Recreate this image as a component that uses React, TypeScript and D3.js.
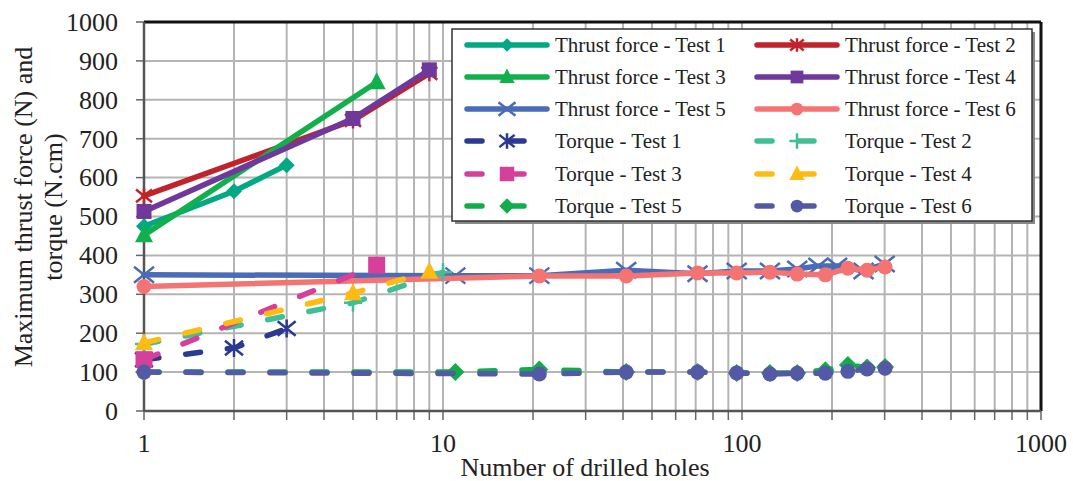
import React from "react";
import * as d3 from "d3";

const W = 1073;
const H = 481;

const xTickLabels = ["1", "10", "100", "1000"];
const yTickValues = [0, 100, 200, 300, 400, 500, 600, 700, 800, 900, 1000];

const thrust1X = [1, 2, 3];
const thrust1Y = [475, 565, 632];
const thrust2X = [1, 5, 9];
const thrust2Y = [553, 747, 868];
const thrust3X = [1, 6];
const thrust3Y = [452, 845];
const thrust4X = [1, 5, 9];
const thrust4Y = [513, 752, 877];
const thrust5X = [1, 11, 21, 41, 71, 96, 124, 153, 180, 208, 255, 300];
const thrust5Y = [350, 348, 348, 362, 353, 360, 360, 365, 373, 373, 360, 378];
const thrust6X = [1, 21, 41, 71, 96, 124, 153, 190, 226, 262, 301];
const thrust6Y = [320, 347, 347, 355, 355, 357, 352, 350, 367, 362, 370];

const torque1X = [1, 2, 3];
const torque1Y = [132, 162, 212];
const torque2X = [1, 5, 10];
const torque2Y = [172, 278, 357];
const torque3X = [1, 6];
const torque3Y = [132, 375];
const torque4X = [1, 5, 9];
const torque4Y = [175, 303, 358];
const torque5X = [1, 11, 21, 41, 71, 96, 124, 153, 190, 226, 262, 301];
const torque5Y = [100, 100, 107, 100, 100, 98, 98, 98, 105, 118, 112, 113];
const torque6X = [1, 21, 41, 71, 96, 124, 153, 190, 226, 262, 301];
const torque6Y = [100, 95, 100, 100, 98, 95, 97, 97, 102, 108, 110];

type Series = {
  name: string;
  xs: number[];
  ys: number[];
  color: string;
  marker: string;
  size: number;
  dashed: boolean;
};

const series: Series[] = [
  { name: "Thrust force - Test 1", xs: thrust1X, ys: thrust1Y, color: "#00A884", marker: "diamond", size: 8, dashed: false },
  { name: "Thrust force - Test 2", xs: thrust2X, ys: thrust2Y, color: "#C1232B", marker: "star", size: 8, dashed: false },
  { name: "Thrust force - Test 3", xs: thrust3X, ys: thrust3Y, color: "#12B04C", marker: "triangle", size: 10, dashed: false },
  { name: "Thrust force - Test 4", xs: thrust4X, ys: thrust4Y, color: "#70389A", marker: "square", size: 7.5, dashed: false },
  { name: "Thrust force - Test 5", xs: thrust5X, ys: thrust5Y, color: "#4A6BB5", marker: "x", size: 10, dashed: false },
  { name: "Thrust force - Test 6", xs: thrust6X, ys: thrust6Y, color: "#F47474", marker: "circle", size: 7.5, dashed: false },
  { name: "Torque - Test 1", xs: torque1X, ys: torque1Y, color: "#2B3990", marker: "star", size: 9, dashed: true },
  { name: "Torque - Test 2", xs: torque2X, ys: torque2Y, color: "#40BF96", marker: "plus", size: 9, dashed: true },
  { name: "Torque - Test 3", xs: torque3X, ys: torque3Y, color: "#D6409A", marker: "square", size: 8.5, dashed: true },
  { name: "Torque - Test 4", xs: torque4X, ys: torque4Y, color: "#FDBB13", marker: "triangle", size: 10, dashed: true },
  { name: "Torque - Test 5", xs: torque5X, ys: torque5Y, color: "#10AD4A", marker: "diamond", size: 9, dashed: true },
  { name: "Torque - Test 6", xs: torque6X, ys: torque6Y, color: "#5459A6", marker: "circle", size: 7.5, dashed: true },
];

const FONT = '"Liberation Serif", "Times New Roman", Times, "DejaVu Serif", serif';

const x = d3.scaleLog().domain([1, 1000]).range([144, 1041]);
const y = d3.scaleLinear().domain([0, 1000]).range([411, 22]);

function Marker({ type, cx, cy, r, color }: { type: string; cx: number; cy: number; r: number; color: string }) {
  if (type === "circle") return <circle cx={cx} cy={cy} r={r} fill={color} />;
  if (type === "square") return <rect x={cx - r} y={cy - r} width={2 * r} height={2 * r} fill={color} />;
  if (type === "diamond")
    return <path d={`M${cx},${cy - r}L${cx + r},${cy}L${cx},${cy + r}L${cx - r},${cy}Z`} fill={color} />;
  if (type === "triangle")
    return (
      <path d={`M${cx},${cy - r}L${cx + r * 0.9},${cy + r * 0.7}L${cx - r * 0.9},${cy + r * 0.7}Z`} fill={color} />
    );
  if (type === "x")
    return (
      <path
        d={`M${cx - r},${cy - r * 0.8}L${cx + r},${cy + r * 0.8}M${cx - r},${cy + r * 0.8}L${cx + r},${cy - r * 0.8}`}
        stroke={color}
        strokeWidth={2.5}
        fill="none"
      />
    );
  if (type === "plus")
    return (
      <path d={`M${cx - r},${cy}L${cx + r},${cy}M${cx},${cy - r}L${cx},${cy + r}`} stroke={color} strokeWidth={2.5} fill="none" />
    );
  if (type === "star")
    return (
      <path
        d={`M${cx - r},${cy - r * 0.8}L${cx + r},${cy + r * 0.8}M${cx - r},${cy + r * 0.8}L${cx + r},${cy - r * 0.8}M${cx},${cy - r}L${cx},${cy + r}`}
        stroke={color}
        strokeWidth={2.5}
        fill="none"
      />
    );
  return null;
}

export default function App() {
  const minorX: number[] = [];
  for (let d = 1; d < 1000; d *= 10) for (let k = 1; k < 10; k++) minorX.push(d * k);
  minorX.push(1000);
  const line = d3
    .line<[number, number]>()
    .x((p) => x(p[0]))
    .y((p) => y(p[1]));

  const legX0 = 452;
  const legY0 = 29;
  const legW = 580;
  const legH = 192;
  const rowY = [45, 77, 109, 141, 174, 206];
  const colX = [467, 757];
  const txt = { fontFamily: FONT, fill: "#222" } as React.CSSProperties;

  return (
    <svg width={W} height={H} style={{ display: "block", position: "absolute", left: 0, top: 0 }}>
      <rect width={W} height={H} fill="#fff" />
      {/* grid */}
      {minorX.slice(1, -1).map((v) => (
        <line key={"gx" + v} x1={x(v)} x2={x(v)} y1={22} y2={411} stroke="#b4b4b4" strokeWidth={2} />
      ))}
      {yTickValues.slice(1, -1).map((v) => (
        <line key={"gy" + v} x1={144} x2={1041} y1={y(v)} y2={y(v)} stroke="#b4b4b4" strokeWidth={2} />
      ))}
      {/* axes ticks */}
      {minorX.map((v) => (
        <line key={"tx" + v} x1={x(v)} x2={x(v)} y1={411} y2={420} stroke="#666" strokeWidth={1.5} />
      ))}
      {yTickValues.map((v) => (
        <line key={"ty" + v} x1={136} x2={144} y1={y(v)} y2={y(v)} stroke="#666" strokeWidth={1.5} />
      ))}
      <line x1={144} x2={1041} y1={22} y2={22} stroke="#111" strokeWidth={3} />
      <line x1={1041} x2={1041} y1={22} y2={411} stroke="#111" strokeWidth={3} />
      <line x1={144} x2={144} y1={22} y2={411} stroke="#555" strokeWidth={2.5} />
      <line x1={144} x2={1041} y1={411} y2={411} stroke="#555" strokeWidth={2.5} />

      {/* series */}
      {series.map((s, i) => {
        const pts: [number, number][] = s.xs.map((v, j) => [v, s.ys[j]]);
        return (
          <g key={"s" + i}>
            <path
              d={line(pts) || ""}
              fill="none"
              stroke={s.color}
              strokeWidth={5.5}
              strokeLinecap="round"
              strokeLinejoin="round"
              strokeDasharray={s.dashed ? "15 27" : undefined}
            />
            {pts.map((p, j) => (
              <Marker key={j} type={s.marker} cx={x(p[0])} cy={y(p[1])} r={s.size} color={s.color} />
            ))}
          </g>
        );
      })}

      {/* tick labels */}
      {yTickValues.map((v) => (
        <text key={"yl" + v} x={118} y={y(v)} dy="0.34em" textAnchor="end" fontSize={26} style={txt}>
          {v}
        </text>
      ))}
      {xTickLabels.map((t) => (
        <text key={"xl" + t} x={x(+t)} y={452} textAnchor="middle" fontSize={26} style={txt}>
          {t}
        </text>
      ))}
      <text x={585} y={476} textAnchor="middle" fontSize={26} style={txt}>
        Number of drilled holes
      </text>
      <text transform="translate(32,207) rotate(-90)" textAnchor="middle" fontSize={26} style={txt}>
        Maximum thrust force (N) and
      </text>
      <text transform="translate(62,207) rotate(-90)" textAnchor="middle" fontSize={26} style={txt}>
        torque (N.cm)
      </text>

      {/* legend */}
      <rect x={legX0 + 3} y={legY0 + 3} width={legW} height={legH} fill="#888" />
      <rect x={legX0} y={legY0} width={legW} height={legH} fill="#fff" stroke="#333" strokeWidth={1.5} />
      {series.map((s, i) => {
        const col = i % 2;
        const row = Math.floor(i / 2);
        const lx = colX[col];
        const ly = rowY[row];
        return (
          <g key={"lg" + i}>
            <line
              x1={lx}
              x2={lx + 80}
              y1={ly}
              y2={ly}
              stroke={s.color}
              strokeWidth={5.5}
              strokeLinecap="round"
              strokeDasharray={s.dashed ? "15 27" : undefined}
            />
            <Marker type={s.marker} cx={lx + 40} cy={ly} r={s.size * 0.85} color={s.color} />
            <text x={lx + 88} y={ly} dy="0.34em" fontSize={21} style={txt}>
              {s.name}
            </text>
          </g>
        );
      })}
    </svg>
  );
}
